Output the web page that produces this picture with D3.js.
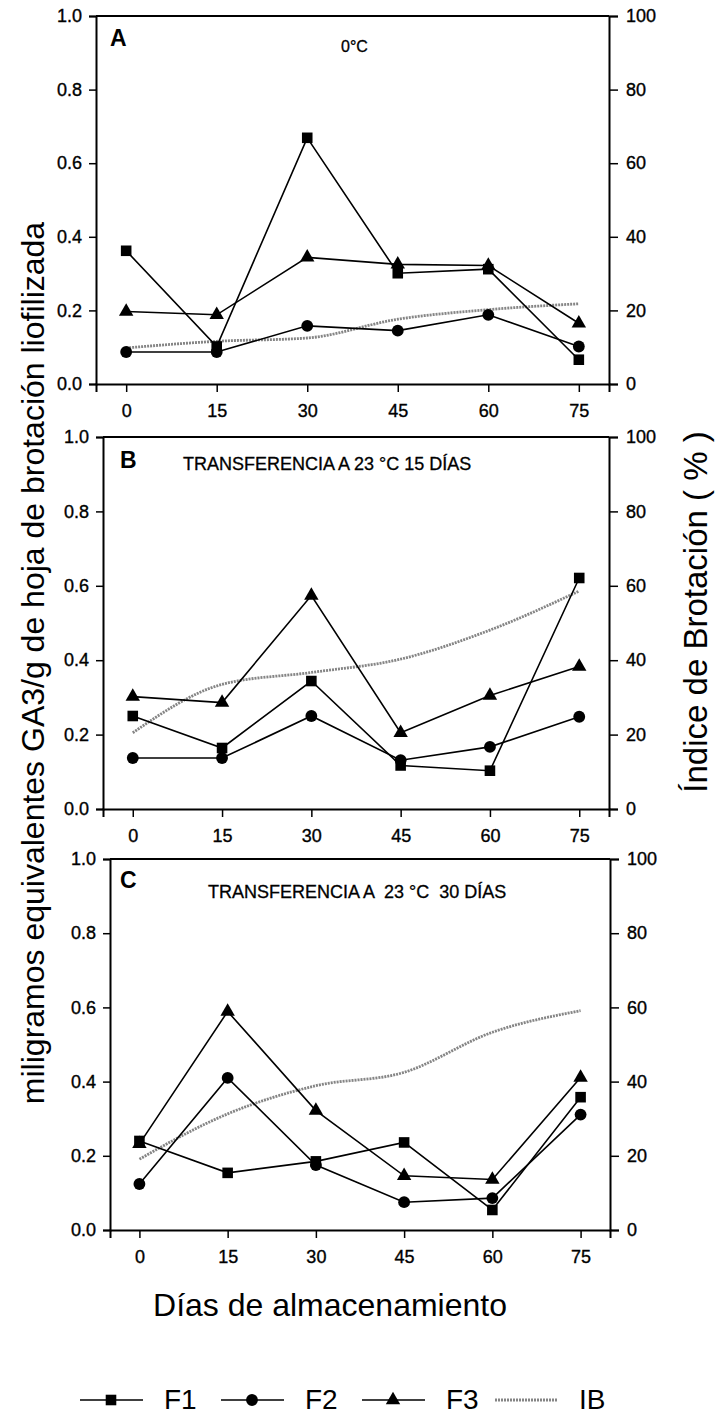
<!DOCTYPE html>
<html>
<head>
<meta charset="utf-8">
<script src="https://cdn.jsdelivr.net/npm/d3@7"></script>
<style>
  html, body { margin: 0; padding: 0; background: #fff; }
  svg { display: block; }
  text { font-family: "Liberation Sans", Arial, sans-serif; fill: #000; }
</style>
</head>
<body>
<svg id="chart" width="716" height="1415"></svg>
<script>
// Storage days (x categories)
const days = [0, 15, 30, 45, 60, 75];
const leftTicks = [0.0, 0.2, 0.4, 0.6, 0.8, 1.0];
const rightTicks = [0, 20, 40, 60, 80, 100];

// Panel A: 0 °C
const f1A = [0.362, 0.102, 0.669, 0.301, 0.312, 0.066];
const f2A = [0.087, 0.087, 0.158, 0.145, 0.188, 0.102];
const f3A = [0.197, 0.188, 0.344, 0.325, 0.322, 0.165];
const ibA = [9.8, 11.6, 12.5, 17.6, 20.2, 21.8];

// Panel B: transfer to 23 °C, 15 days
const f1B = [0.250, 0.164, 0.344, 0.117, 0.103, 0.621];
const f2B = [0.137, 0.137, 0.250, 0.131, 0.167, 0.248];
const f3B = [0.302, 0.286, 0.574, 0.205, 0.305, 0.383];
const ibB = [20.5, 33.5, 36.7, 40.3, 48.1, 58.6];

// Panel C: transfer to 23 °C, 30 days
const f1C = [0.240, 0.154, 0.185, 0.236, 0.054, 0.358];
const f2C = [0.124, 0.410, 0.175, 0.075, 0.086, 0.311];
const f3C = [0.232, 0.589, 0.322, 0.146, 0.136, 0.411];
const ibC = [19.1, 31.3, 38.9, 42.5, 53.3, 59.1];

const panelLetters = ["A", "B", "C"];
const panelTitles = ["0°C", "TRANSFERENCIA A 23 °C 15 DÍAS", "TRANSFERENCIA A  23 °C  30 DÍAS"];
const seriesNames = ["F1", "F2", "F3", "IB"];

const yTitle = "miligramos equivalentes GA3/g de hoja de brotación liofilizada";
const y2Title = "Índice de Brotación ( % )";
const xTitle = "Días de almacenamiento";

// Frame geometry of the three stacked panels
const frames = [
  { left: 96,  right: 609, top: 16,  bottom: 384,  letterX: 110, letterY: 46,  titleX: 341, titleY: 52 },
  { left: 103, right: 609, top: 437, bottom: 809,  letterX: 120, letterY: 468, titleX: 183, titleY: 470 },
  { left: 110, right: 610, top: 859, bottom: 1230, letterX: 120, letterY: 888, titleX: 208, titleY: 898 }
];

const panels = [
  { F1: f1A, F2: f2A, F3: f3A, IB: ibA },
  { F1: f1B, F2: f2B, F3: f3B, IB: ibB },
  { F1: f1C, F2: f2C, F3: f3C, IB: ibC }
];

const svg = d3.select("#chart");
const tickFont = 18;
const IB_COLOR = "#858585";

const symSquare = d3.symbol().type(d3.symbolSquare).size(112);
const symCircle = d3.symbol().type(d3.symbolCircle).size(110);
const symTriangle = d3.symbol().type(d3.symbolTriangle).size(90);
const markerFor = { F1: symSquare, F2: symCircle, F3: symTriangle };

// slightly heavier glyphs, like a printed figure
function ink(sel, w) {
  sel.attr("stroke", "#000").attr("stroke-width", w).attr("paint-order", "stroke");
}

panels.forEach((p, i) => {
  const fr = frames[i];
  const x = d3.scaleLinear().domain([-5, 80]).range([fr.left, fr.right]);
  const y = d3.scaleLinear().domain([0, 1]).range([fr.bottom, fr.top]);
  const y2 = d3.scaleLinear().domain([0, 100]).range([fr.bottom, fr.top]);

  const g = svg.append("g");

  // top frame line
  g.append("line")
    .attr("x1", fr.left).attr("x2", fr.right)
    .attr("y1", fr.top).attr("y2", fr.top)
    .attr("stroke", "#000").attr("stroke-width", 1.8);

  // axes
  const axL = d3.axisLeft(y).tickValues(leftTicks).tickFormat(d3.format(".1f")).tickSize(7).tickPadding(7);
  const axR = d3.axisRight(y2).tickValues(rightTicks).tickFormat(d3.format("d")).tickSize(9).tickPadding(8);
  const axB = d3.axisBottom(x).tickValues(days).tickFormat(d3.format("d")).tickSize(8).tickPadding(12);

  [[axL, `translate(${fr.left},0)`], [axR, `translate(${fr.right},0)`], [axB, `translate(0,${fr.bottom})`]]
    .forEach(([ax, tr]) => {
      const a = g.append("g").attr("transform", tr).call(ax);
      a.select(".domain").attr("stroke", "#000").attr("stroke-width", 2);
      a.selectAll(".tick line").attr("stroke", "#000").attr("stroke-width", 1.5);
      a.selectAll(".tick text")
        .attr("font-family", '"Liberation Sans", Arial, sans-serif')
        .attr("font-size", tickFont).attr("fill", "#000")
        .call(ink, 0.35);
    });

  // panel letter and subtitle
  g.append("text").attr("x", fr.letterX).attr("y", fr.letterY)
    .attr("font-size", 23).attr("font-weight", "bold").text(panelLetters[i]);
  g.append("text").attr("x", fr.titleX).attr("y", fr.titleY)
    .attr("font-size", i === 0 ? 16 : 18)
    .style("white-space", "pre").attr("xml:space", "preserve")
    .call(ink, 0.3)
    .text(panelTitles[i]);

  // sprouting index (right axis), smooth grey line
  const ibLine = d3.line().x((d, k) => x(days[k])).y(d => y2(d)).curve(d3.curveMonotoneX);
  g.append("path").datum(p.IB).attr("d", ibLine)
    .attr("fill", "none").attr("stroke", IB_COLOR).attr("stroke-width", 2.8)
    .attr("stroke-dasharray", "2 1");

  // GA3 series (squares drawn last so they sit on top)
  const line = d3.line().x((d, k) => x(days[k])).y(d => y(d));
  ["F3", "F2", "F1"].forEach(name => {
    const vals = p[name];
    g.append("path").datum(vals).attr("d", line)
      .attr("fill", "none").attr("stroke", "#000").attr("stroke-width", 1.6);
    g.selectAll(null).data(vals).enter().append("path")
      .attr("d", markerFor[name])
      .attr("transform", (d, k) => `translate(${x(days[k])},${y(d)})`)
      .attr("fill", "#000");
  });
});

// axis titles
svg.append("text")
  .attr("transform", "translate(44,663) rotate(-90)")
  .attr("text-anchor", "middle").attr("font-size", 32).text(yTitle);
svg.append("text")
  .attr("transform", "translate(707,612) rotate(-90)")
  .attr("text-anchor", "middle").attr("font-size", 33).text(y2Title);
svg.append("text")
  .attr("x", 330).attr("y", 1316)
  .attr("text-anchor", "middle").attr("font-size", 32).text(xTitle);

// legend
const legendItems = [
  { name: "F1", x0: 80 },
  { name: "F2", x0: 221 },
  { name: "F3", x0: 362 },
  { name: "IB", x0: 495 }
];
const legY = 1400;
const legend = svg.append("g");
legendItems.forEach(it => {
  const isIB = it.name === "IB";
  legend.append("line")
    .attr("x1", it.x0).attr("x2", it.x0 + 63)
    .attr("y1", legY).attr("y2", legY)
    .attr("stroke", isIB ? IB_COLOR : "#000")
    .attr("stroke-width", isIB ? 2.8 : 1.6)
    .attr("stroke-dasharray", isIB ? "2 1" : null);
  if (!isIB) {
    legend.append("path").attr("d", markerFor[it.name])
      .attr("transform", `translate(${it.x0 + 31},${legY})`).attr("fill", "#000");
  }
  legend.append("text")
    .attr("x", it.x0 + 84).attr("y", legY + 9)
    .attr("font-size", 28).text(it.name);
});
</script>
</body>
</html>
